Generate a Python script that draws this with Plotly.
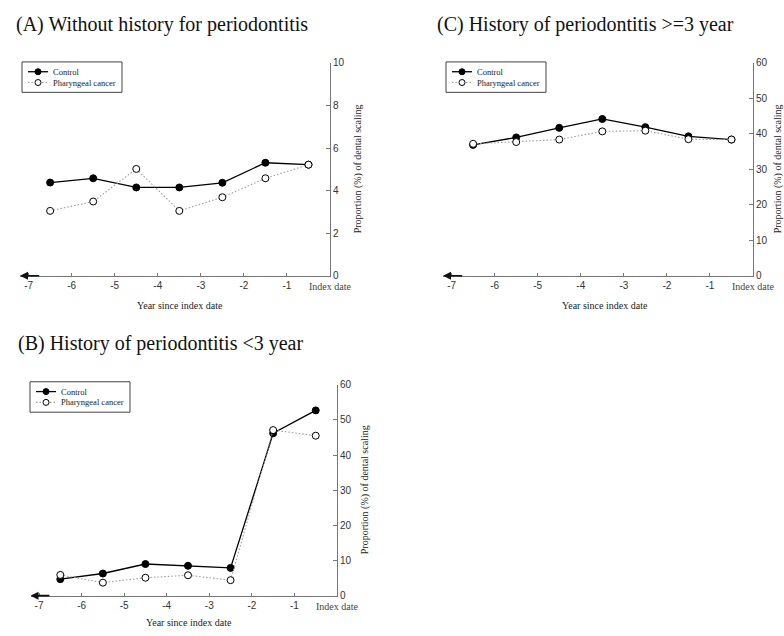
import plotly.graph_objects as go

years = [-6.5, -5.5, -4.5, -3.5, -2.5, -1.5, -0.5]

a_control = [4.38, 4.58, 4.15, 4.15, 4.37, 5.31, 5.22]
a_cancer = [3.05, 3.49, 5.02, 3.05, 3.69, 4.58, 5.22]

b_control = [4.7, 6.3, 9.0, 8.5, 7.9, 46.2, 52.7]
b_cancer = [5.9, 3.7, 5.1, 5.8, 4.4, 47.1, 45.5]

c_control = [36.9, 39.0, 41.7, 44.2, 41.9, 39.3, 38.4]
c_cancer = [37.2, 37.7, 38.4, 40.7, 40.9, 38.5, 38.4]

x_ticks = [-7, -6, -5, -4, -3, -2, -1]
x_ticklabels = ["-7", "-6", "-5", "-4", "-3", "-2", "-1"]

titles = ["(A) Without history for periodontitis",
          "(B) History of periodontitis <3 year",
          "(C) History of periodontitis >=3 year"]
x_title = "Year since index date"
y_title = "Proportion (%) of dental scaling"
series_names = ["Control", "Pharyngeal cancer"]

W, H = 784, 636
SERIF = "Liberation Serif, Times New Roman, serif"
SANS = "Liberation Sans, Arial, sans-serif"

CTRL_LINE = dict(color="black", width=1.3)
CANC_LINE = dict(color="#9c9c9c", width=1.1, dash="1.5px,2px")

fig = go.Figure()

panels = [
    dict(key="", left=20, right=330, top=58, bottom=275, ymax=10, dtick=2,
         ctrl=a_control, canc=a_cancer, title=titles[0], tx=14, ty=19,
         leg=(22, 57), xlab=(180, 305), ylab_x=358),
    dict(key="2", left=30.5, right=337, top=386, bottom=601, ymax=60, dtick=10,
         ctrl=b_control, canc=b_cancer, title=titles[1], tx=16, ty=344,
         leg=(30, 383), xlab=(189, 628), ylab_x=365),
    dict(key="3", left=443, right=753, top=58, bottom=275, ymax=60, dtick=10,
         ctrl=c_control, canc=c_cancer, title=titles[2], tx=435, ty=19,
         leg=(446, 57), xlab=(605, 305), ylab_x=778),
]


def px(xp):
    return xp / W


def py(yp):
    return 1 - yp / H


annotations = []
shapes = []
layout_updates = {}
for p in panels:
    k = p["key"]
    xa = "x" + k
    ya = "y" + k
    fig.add_trace(go.Scatter(
        x=years, y=p["ctrl"], name=series_names[0], mode="lines+markers",
        xaxis=xa, yaxis=ya, showlegend=False,
        line=CTRL_LINE,
        marker=dict(symbol="circle", size=7, color="black",
                    line=dict(color="black", width=1)),
    ))
    fig.add_trace(go.Scatter(
        x=years, y=p["canc"], name=series_names[1], mode="lines+markers",
        xaxis=xa, yaxis=ya, showlegend=False,
        line=CANC_LINE,
        marker=dict(symbol="circle", size=7, color="white",
                    line=dict(color="black", width=1)),
    ))
    layout_updates["xaxis" + k] = dict(
        domain=[px(p["left"]), px(p["right"])], range=[-7.2, 0],
        anchor=ya, showline=True, linecolor="#777", linewidth=1,
        ticks="inside", ticklen=3, tickcolor="#777",
        tickvals=x_ticks, ticktext=x_ticklabels,
        tickfont=dict(family=SANS, size=10, color="#333"),
        showgrid=False, zeroline=False, fixedrange=True,
    )
    layout_updates["yaxis" + k] = dict(
        domain=[py(p["bottom"]), py(p["top"])], range=[0, p["ymax"]],
        anchor=xa, side="right", showline=True, linecolor="#777", linewidth=1,
        ticks="inside", ticklen=4, tickcolor="#777", dtick=p["dtick"],
        tickfont=dict(family=SANS, size=10, color="#333"),
        showgrid=False, zeroline=False, fixedrange=True,
    )
    # manual legend box
    lx, ly = p["leg"]
    shapes.append(dict(type="rect", xref="paper", yref="paper",
                       x0=px(lx), x1=px(lx + 100), y0=py(ly + 31), y1=py(ly),
                       line=dict(color="#444", width=1), fillcolor="white", layer="above"))
    for i, (name, ln, fill) in enumerate([(series_names[0], CTRL_LINE, "black"),
                                          (series_names[1], CANC_LINE, "white")]):
        ry = ly + 10 + 11 * i
        shapes.append(dict(type="line", xref="paper", yref="paper",
                           x0=px(lx + 6), x1=px(lx + 26), y0=py(ry), y1=py(ry),
                           line=ln, layer="above"))
        shapes.append(dict(type="circle", xref="paper", yref="paper",
                           xsizemode="pixel", ysizemode="pixel",
                           xanchor=px(lx + 16), yanchor=py(ry),
                           x0=-3, x1=3, y0=-3, y1=3,
                           line=dict(color="black", width=1), fillcolor=fill, layer="above"))
        annotations.append(dict(
            text=name, x=px(lx + 29), y=py(ry), xref="paper", yref="paper",
            xanchor="left", yanchor="middle", showarrow=False,
            font=dict(family=SERIF, size=8.5, color="#222"),
        ))
    # title
    annotations.append(dict(
        text=p["title"], x=px(p["tx"]), y=py(p["ty"]), xref="paper", yref="paper",
        xanchor="left", yanchor="middle", showarrow=False,
        font=dict(family=SERIF, size=20, color="#111"),
    ))
    # x title
    annotations.append(dict(
        text=x_title, x=px(p["xlab"][0]), y=py(p["xlab"][1]), xref="paper", yref="paper",
        xanchor="center", yanchor="middle", showarrow=False,
        font=dict(family=SERIF, size=10, color="#222"),
    ))
    # y title
    annotations.append(dict(
        text=y_title, x=px(p["ylab_x"]), y=py((p["top"] + p["bottom"]) / 2),
        xref="paper", yref="paper", xanchor="center", yanchor="middle",
        textangle=-90, showarrow=False,
        font=dict(family=SERIF, size=10, color="#222"),
    ))
    # Index date label
    annotations.append(dict(
        text="Index date", x=0, xref=xa, y=py(p["bottom"] + 11), yref="paper",
        xanchor="center", yanchor="middle", showarrow=False,
        font=dict(family=SERIF, size=10, color="#444"),
    ))
    # left arrow on x axis
    annotations.append(dict(
        text="", x=-7.2, y=0, xref=xa, yref=ya, ax=-6.72, ay=0, axref=xa, ayref=ya,
        showarrow=True, arrowhead=2, arrowsize=1, arrowwidth=1.6, arrowcolor="#111",
    ))

fig.update_layout(
    width=W, height=H, margin=dict(l=0, r=0, t=0, b=0),
    paper_bgcolor="white", plot_bgcolor="white",
    annotations=annotations, shapes=shapes, showlegend=False,
    **layout_updates,
)

fig.write_html("out.html", config={"displayModeBar": False},
               post_script="document.body.style.margin='0';document.body.style.overflow='hidden';")
